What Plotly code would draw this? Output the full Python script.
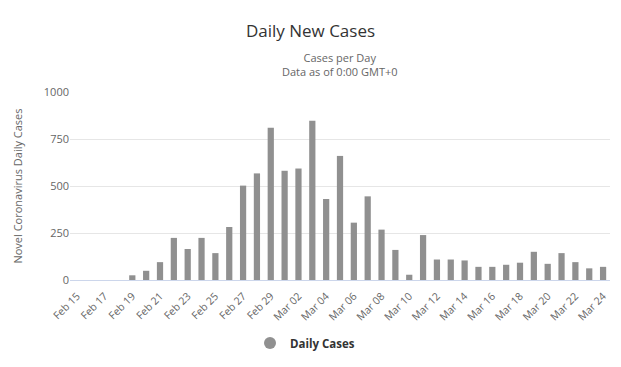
import plotly.graph_objects as go

dates = ["Feb 15", "Feb 16", "Feb 17", "Feb 18", "Feb 19", "Feb 20", "Feb 21", "Feb 22",
         "Feb 23", "Feb 24", "Feb 25", "Feb 26", "Feb 27", "Feb 28", "Feb 29",
         "Mar 01", "Mar 02", "Mar 03", "Mar 04", "Mar 05", "Mar 06", "Mar 07", "Mar 08",
         "Mar 09", "Mar 10", "Mar 11", "Mar 12", "Mar 13", "Mar 14", "Mar 15", "Mar 16",
         "Mar 17", "Mar 18", "Mar 19", "Mar 20", "Mar 21", "Mar 22", "Mar 23", "Mar 24"]
daily_cases = [0, 0, 0, 0, 25, 49, 95, 224,
               165, 224, 143, 282, 502, 567, 810,
               581, 593, 847, 431, 660, 305, 445, 268,
               160, 28, 239, 109, 109, 104, 70, 70,
               81, 92, 150, 86, 143, 95, 62, 70]
tick_labels = dates[::2]
y_ticks = [0, 250, 500, 750, 1000]

FONT = "Open Sans, DejaVu Sans, sans-serif"
BAR = "#909090"

fig = go.Figure()
fig.add_trace(go.Bar(x=dates, y=daily_cases, marker=dict(color=BAR, line=dict(width=0)),
                     showlegend=False, name="Daily Cases"))
fig.add_trace(go.Scatter(x=[None], y=[None], mode="markers", name="<b>Daily Cases</b>",
                         marker=dict(color=BAR, size=10, symbol="circle"), showlegend=True))

fig.update_layout(
    width=621, height=367,
    margin=dict(l=70, r=11, t=92, b=86),
    paper_bgcolor="white", plot_bgcolor="white",
    font=dict(family=FONT, color="#666666", size=11),
    bargap=0.55,
    title=dict(text="Daily New Cases", x=0.5, xanchor="center", y=1 - 31 / 367, yanchor="middle",
               font=dict(size=17, color="#333333", family=FONT)),
    legend=dict(orientation="h", x=(250 - 70) / 540, xanchor="left", y=-(343 - 281) / 189,
                yanchor="middle", itemwidth=30,
                font=dict(size=11.5, color="#333333", family=FONT), itemsizing="constant"),
    annotations=[
        dict(text="Cases per Day<br>Data as of 0:00 GMT+0", xref="paper", yref="paper",
             x=0.5, y=1 + (92 - 64) / 189, xanchor="center", yanchor="middle", showarrow=False,
             font=dict(size=11, color="#666666", family=FONT)),
    ],
)
fig.update_xaxes(type="category", tickmode="array", tickvals=tick_labels, ticktext=tick_labels,
                 tickangle=-45, tickfont=dict(size=10.5, color="#666666"), automargin=False,
                 ticklabelstandoff=5,
                 showgrid=False, showline=True, linecolor="#ccd6eb", linewidth=1, ticks="")
fig.update_yaxes(range=[0, 1000], tickvals=y_ticks, showgrid=True, gridcolor="#e6e6e6",
                 zeroline=False, tickfont=dict(size=11, color="#666666"), ticks="",
                 automargin=False,
                 title=dict(text="Novel Coronavirus Daily Cases", font=dict(size=11, color="#666666"),
                            standoff=18))

fig.write_html("out.html", post_script="document.body.style.margin='0';",
               config={"displayModeBar": False})
